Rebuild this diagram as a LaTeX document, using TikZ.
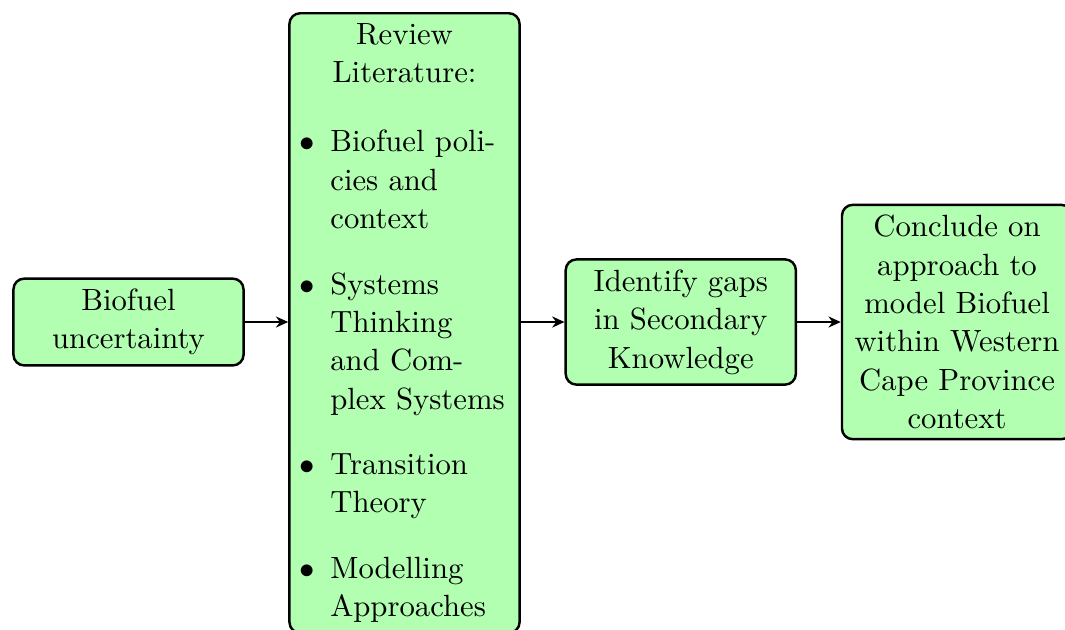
\documentclass[tikz,border=0pt]{standalone}
\usetikzlibrary{positioning,arrows.meta}
\tikzset{
  stage/.style={draw, thick, fill=green!30, rounded corners=3.5pt,
    text width=2.4cm, align=center,
    font=\fontsize{10pt}{12.5pt}\selectfont},
  flow/.style={thick, -{Stealth[length=4pt,width=3.6pt,inset=1.3pt]}}
}
\renewcommand{\labelitemi}{$\bullet$}
\begin{document}
\begin{tikzpicture}[x=0.3257pt,y=-0.3257pt]
\useasboundingbox (0,0) rectangle (1065,629);
% process stages, left to right
\node[stage] (unc) at (128.5,322) {Biofuel\\uncertainty};
\node[stage, anchor=north] (lit) at (404.5,12) {Review\\Literature:\par
  \setlength{\leftmargini}{10pt}%
  \begin{itemize}\raggedright\setlength{\itemsep}{4.8pt}%
    \item Biofuel poli-\\cies and\\context
    \item Systems\\Thinking\\and Com-\\plex Systems
    \item Transition\\Theory
    \item Modelling\\Approaches
  \end{itemize}};
\node[stage, right=0.5cm of unc.east -| lit.east, anchor=west] (gaps) {Identify gaps\\in Secondary\\Knowledge};
\node[stage, right=0.5cm of gaps] (concl) {Conclude on\\approach to\\model Biofuel\\within Western\\Cape Province\\context};
% connectors
\draw[flow] (unc.east) -- (unc.east -| lit.west);
\draw[flow] (gaps.west -| lit.east) -- (gaps.west);
\draw[flow] (gaps) -- (concl);
\end{tikzpicture}
\end{document}
